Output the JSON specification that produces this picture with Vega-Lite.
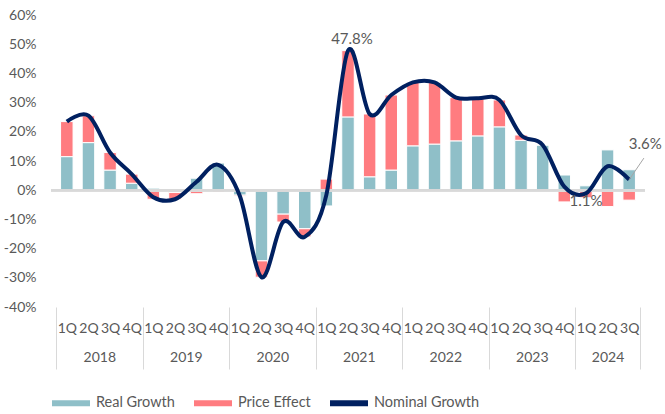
{
  "$schema": "https://vega.github.io/schema/vega-lite/v6.json",
  "width": 594,
  "height": 292,
  "autosize": {"type": "none"},
  "padding": {"left": 51, "top": 15, "right": 20, "bottom": 107},
  "config": {
    "view": {"stroke": null},
    "font": "Lato",
    "axis": {"labelFont": "Lato", "labelColor": "#595959", "labelFontSize": 14, "grid": false, "domain": false, "ticks": false},
    "axisY": {"tickCount": 10, "labelExpr": "datum.value + '%'", "labelPadding": 15},
    "legend": {"labelFont": "Lato"}
  },
  "datasets": {
    "q": [
      {"i": 0, "Real Growth": 11.5, "Price Effect": 12.0, "nominal": 23.5},
      {"i": 1, "Real Growth": 16.3, "Price Effect": 9.2, "nominal": 25.5},
      {"i": 2, "Real Growth": 6.9, "Price Effect": 6.0, "nominal": 12.9},
      {"i": 3, "Real Growth": 2.4, "Price Effect": 3.1, "nominal": 5.5},
      {"i": 4, "Real Growth": 0.7, "Price Effect": -3.1, "nominal": -2.4},
      {"i": 5, "Real Growth": -0.8, "Price Effect": -2.3, "nominal": -3.1},
      {"i": 6, "Real Growth": 4.1, "Price Effect": -1.2, "nominal": 2.9},
      {"i": 7, "Real Growth": 9.3, "Price Effect": -0.6, "nominal": 8.7},
      {"i": 8, "Real Growth": -1.7, "Price Effect": -0.3, "nominal": -2.0},
      {"i": 9, "Real Growth": -24.2, "Price Effect": -5.6, "nominal": -29.8},
      {"i": 10, "Real Growth": -8.2, "Price Effect": -2.7, "nominal": -10.9},
      {"i": 11, "Real Growth": -13.2, "Price Effect": -2.8, "nominal": -16.0},
      {"i": 12, "Real Growth": -5.4, "Price Effect": 3.8, "nominal": -1.6},
      {"i": 13, "Real Growth": 25.1, "Price Effect": 22.7, "nominal": 47.8},
      {"i": 14, "Real Growth": 4.6, "Price Effect": 21.5, "nominal": 26.1},
      {"i": 15, "Real Growth": 6.9, "Price Effect": 25.7, "nominal": 32.6},
      {"i": 16, "Real Growth": 15.2, "Price Effect": 21.7, "nominal": 36.9},
      {"i": 17, "Real Growth": 15.8, "Price Effect": 21.1, "nominal": 36.9},
      {"i": 18, "Real Growth": 16.9, "Price Effect": 14.8, "nominal": 31.7},
      {"i": 19, "Real Growth": 18.6, "Price Effect": 12.9, "nominal": 31.5},
      {"i": 20, "Real Growth": 21.7, "Price Effect": 9.2, "nominal": 30.9},
      {"i": 21, "Real Growth": 17.1, "Price Effect": 1.8, "nominal": 18.9},
      {"i": 22, "Real Growth": 15.5, "Price Effect": 0.0, "nominal": 15.5},
      {"i": 23, "Real Growth": 5.2, "Price Effect": -4.0, "nominal": 1.2},
      {"i": 24, "Real Growth": 1.5, "Price Effect": -2.6, "nominal": -1.1},
      {"i": 25, "Real Growth": 13.8, "Price Effect": -5.6, "nominal": 8.2},
      {"i": 26, "Real Growth": 7.0, "Price Effect": -3.4, "nominal": 3.6}
    ],
    "ann": [
      {"i": 13, "v": 47.8, "t": "47.8%"},
      {"i": 24, "v": -1.1, "t": "1.1%"},
      {"i": 26, "v": 3.6, "t": "3.6%"}
    ]
  },
  "data": {"name": "q"},
  "resolve": {"axis": {"x": "independent"}},
  "layer": [
    {
      "transform": [{"fold": ["Real Growth", "Price Effect"], "as": ["series", "value"]}],
      "mark": {"type": "bar", "size": 12.5, "stroke": "white", "strokeWidth": 1},
      "encoding": {
        "x": {"field": "i", "type": "quantitative", "title": null, "scale": {"domain": [-0.5, 26.5], "nice": false, "zero": false},
          "axis": {"orient": "bottom", "values": [0,1,2,3,4,5,6,7,8,9,10,11,12,13,14,15,16,17,18,19,20,21,22,23,24,25,26], "labelExpr": "['1Q','2Q','3Q','4Q'][datum.value % 4]", "labelPadding": 14, "labelFontSize": 14}},
        "y": {"field": "value", "type": "quantitative", "stack": "zero", "title": null, "scale": {"domain": [-40, 60], "nice": false}},
        "color": {"field": "series", "type": "nominal",
          "scale": {"domain": ["Real Growth", "Price Effect", "Nominal Growth"], "range": ["#8FBFC8", "#FF7C80", "#002060"]},
          "legend": {"orient": "none", "legendX": 1, "legendY": 369, "direction": "horizontal", "title": null,
            "symbolType": "M-1,-0.16H1V0.16H-1Z", "symbolSize": 1444, "symbolStrokeWidth": 0,
            "labelFontSize": 14.5, "labelColor": "#595959", "columnPadding": 19, "labelOffset": 6,
            "encode": {"symbols": {"update": {"shape": {"signal": "datum.value === 'Nominal Growth' ? 'M-1,-0.1H1V0.1H-1Z' : 'M-1,-0.16H1V0.16H-1Z'"}}}}}},
        "order": {"field": "series", "sort": "descending"}
      }
    },
    {
      "mark": {"type": "rule", "color": "#D9D9D9", "strokeWidth": 2},
      "encoding": {"y": {"datum": 0, "type": "quantitative", "title": null, "scale": {"domain": [-40, 60], "nice": false}}}
    },
    {
      "mark": {"type": "line", "color": "#002060", "strokeWidth": 4, "interpolate": "cardinal"},
      "encoding": {
        "x": {"field": "i", "type": "quantitative", "title": null, "scale": {"domain": [-0.5, 26.5], "nice": false, "zero": false},
          "axis": {"orient": "bottom", "values": [1.5, 5.5, 9.5, 13.5, 17.5, 21.5, 25], "labelExpr": "2018 + floor(datum.value / 4)", "labelPadding": 43, "labelFontSize": 14}},
        "y": {"field": "nominal", "type": "quantitative", "title": null, "scale": {"domain": [-40, 60], "nice": false}},
        "color": {"datum": "Nominal Growth"}
      }
    },
    {
      "data": {"name": "ann"},
      "transform": [{"filter": "datum.i == 26"}],
      "mark": {"type": "rule", "color": "#A6A6A6", "strokeWidth": 1},
      "encoding": {
        "x": {"field": "i", "type": "quantitative", "title": null, "scale": {"domain": [-0.5, 26.5], "nice": false, "zero": false},
          "axis": {"orient": "bottom", "values": [-0.5, 3.5, 7.5, 11.5, 15.5, 19.5, 23.5, 26.5], "labels": false, "ticks": true, "tickSize": 62, "tickColor": "#D9D9D9", "tickWidth": 1}},
        "x2": {"datum": 26.68},
        "y": {"field": "v", "type": "quantitative", "title": null, "scale": {"domain": [-40, 60], "nice": false}},
        "y2": {"datum": 11}
      }
    },
    {
      "data": {"name": "ann"},
      "transform": [{"filter": "datum.i == 13"}],
      "mark": {"type": "text", "fontSize": 15, "color": "#595959", "dx": 4, "dy": -12},
      "encoding": {
        "x": {"field": "i", "type": "quantitative", "scale": {"domain": [-0.5, 26.5], "nice": false, "zero": false}, "axis": null},
        "y": {"field": "v", "type": "quantitative", "title": null, "scale": {"domain": [-40, 60], "nice": false}},
        "text": {"field": "t"}
      }
    },
    {
      "data": {"name": "ann"},
      "transform": [{"filter": "datum.i == 24"}],
      "mark": {"type": "text", "fontSize": 15, "color": "#595959", "dx": 0, "dy": 8},
      "encoding": {
        "x": {"field": "i", "type": "quantitative", "scale": {"domain": [-0.5, 26.5], "nice": false, "zero": false}, "axis": null},
        "y": {"field": "v", "type": "quantitative", "title": null, "scale": {"domain": [-40, 60], "nice": false}},
        "text": {"field": "t"}
      }
    },
    {
      "data": {"name": "ann"},
      "transform": [{"filter": "datum.i == 26"}],
      "mark": {"type": "text", "fontSize": 15, "color": "#595959", "dx": 16, "dy": -36},
      "encoding": {
        "x": {"field": "i", "type": "quantitative", "scale": {"domain": [-0.5, 26.5], "nice": false, "zero": false}, "axis": null},
        "y": {"field": "v", "type": "quantitative", "title": null, "scale": {"domain": [-40, 60], "nice": false}},
        "text": {"field": "t"}
      }
    }
  ]
}
